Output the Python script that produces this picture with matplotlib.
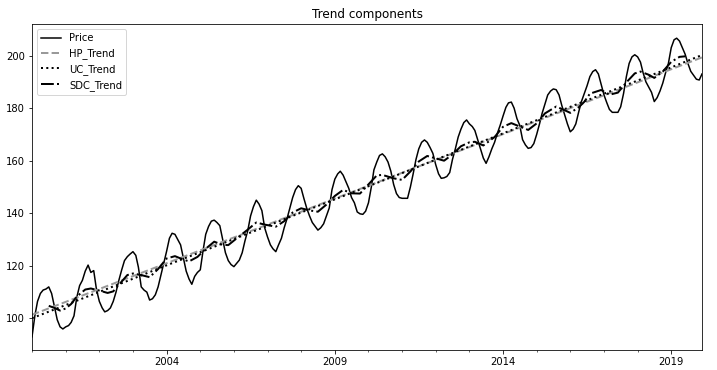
import matplotlib
matplotlib.use("Agg")
import matplotlib.pyplot as plt
import matplotlib.dates as mdates
import pandas as pd

# ---- data ----
start = "2000-01-01"
price = [
    93.0, 101.0, 106.5, 109.5, 110.8, 111.2, 112.0, 109.5, 104.5, 99.5, 96.8, 96.0,
    96.8, 97.3, 98.5, 101.0, 108.0, 112.5, 114.5, 118.0, 120.3, 117.5, 118.2, 111.0,
    106.5, 104.0, 102.5, 103.0, 104.0, 106.5, 110.0, 114.5, 118.5, 122.0, 123.5, 124.5,
    125.4, 124.0, 119.5, 112.0, 110.8, 110.0, 107.0, 107.5, 109.0, 112.0, 116.5, 121.0,
    125.5, 130.5, 132.4, 132.0, 130.0, 128.0, 123.0, 118.0, 115.0, 113.0, 116.0, 117.5,
    118.5, 126.0, 132.0, 135.0, 137.0, 137.4, 136.5, 135.3, 130.0, 125.0, 122.0, 120.5,
    119.7, 121.0, 122.2, 125.0, 129.5, 133.5, 139.0, 142.5, 145.0, 143.5, 141.0, 134.5,
    131.0, 128.0, 126.5, 125.4, 128.0, 130.5, 134.5, 138.0, 142.0, 146.0, 149.0, 150.5,
    149.5, 145.5, 142.0, 139.0, 136.5, 135.0, 133.6, 134.5, 136.0, 139.0, 142.0, 149.0,
    153.0, 155.0, 156.0, 154.5, 152.0, 149.5, 146.0, 144.0, 140.5, 139.8, 139.6, 140.8,
    144.0, 150.0, 156.5, 159.5, 162.0, 162.6, 161.5, 159.5, 156.0, 151.0, 147.5, 146.0,
    145.7, 145.7, 145.7, 150.0, 155.0, 160.5, 164.5, 167.0, 167.9, 167.0, 165.0, 162.8,
    158.5, 155.0, 153.3, 153.5, 154.0, 155.5, 160.5, 164.5, 169.0, 172.0, 174.5, 175.5,
    174.0, 173.0, 171.5, 168.0, 164.5, 161.0, 159.0, 161.5, 164.5, 167.0, 170.5, 173.5,
    177.0, 180.3, 182.0, 182.3, 180.0, 176.0, 173.5, 168.0, 166.0, 164.7, 165.0, 166.5,
    170.0, 174.0, 178.0, 181.5, 185.0, 186.5, 187.3, 187.0, 185.0, 181.0, 177.5, 174.0,
    171.0, 172.0, 174.0, 178.5, 182.5, 185.5, 188.5, 192.0, 193.9, 194.6, 193.0, 189.0,
    185.0, 182.0, 179.5, 178.4, 178.4, 178.4, 180.5, 185.5, 192.0, 197.0, 199.5, 200.3,
    199.5, 197.5, 193.5, 190.0, 188.0, 186.0, 182.5, 184.0, 186.5, 189.5, 193.5, 197.0,
    203.0, 206.0, 206.6, 205.5, 203.0, 200.5, 197.0, 194.0, 192.5, 191.0, 190.7, 193.0,
]

trend_dates = [f"{y}-01-01" for y in range(2000, 2020)] + ["2019-12-01"]
hp_trend = [101.4, 106.3, 111.2, 116.1, 121.0, 125.9, 130.8, 135.7, 140.6, 145.6,
            150.5, 155.4, 160.3, 165.2, 170.1, 175.1, 180.0, 184.9, 189.8, 194.8, 199.3]
uc_trend = [100.1, 105.1, 110.1, 115.1, 120.2, 125.2, 130.2, 135.2, 140.3, 145.3,
            150.3, 155.3, 160.4, 165.4, 170.4, 175.4, 180.5, 185.5, 190.5, 195.5, 200.2]

sdc_month = [6, 8, 10, 12, 14, 16, 19, 21, 24, 27, 29, 31, 34, 36, 39, 42, 45, 48, 51, 54,
             56, 59, 62, 65, 68, 70, 73, 77, 80, 83, 87, 90, 93, 96, 99, 102, 105, 108, 111,
             114, 117, 120, 123, 125, 129, 132, 135, 138, 141, 144, 147, 150, 153, 156, 158,
             161, 165, 168, 171, 174, 177, 180, 183, 187, 190, 192, 195, 197, 199, 203, 206,
             209, 212, 215, 217, 220, 222, 225, 228, 231, 233]
sdc_trend = [104.8, 104.0, 103.0, 103.8, 105.5, 108.3, 111.0, 111.4, 110.6, 109.7, 110.3,
             112.8, 116.5, 117.1, 116.5, 115.7, 118.8, 122.8, 123.7, 122.4, 121.7, 123.4,
             126.5, 129.2, 128.0, 127.9, 130.5, 133.8, 136.5, 135.7, 134.9, 137.0, 140.3,
             141.9, 141.1, 140.6, 143.3, 146.6, 148.9, 147.6, 147.5, 151.0, 154.4, 154.6,
             153.3, 152.7, 155.9, 159.7, 161.8, 160.9, 160.0, 162.4, 165.5, 167.0, 167.2,
             165.8, 169.0, 172.9, 174.3, 173.0, 171.7, 174.2, 178.0, 180.6, 179.2, 178.2,
             180.3, 182.4, 185.5, 186.9, 185.1, 185.9, 189.8, 193.2, 193.9, 192.7, 191.5,
             193.9, 197.6, 199.5, 199.7]

major_years = [2004, 2009, 2014, 2019]

# ---- figure ----
W, H, DPI = 717, 370, 72
fig = plt.figure(figsize=(W / DPI, H / DPI), dpi=DPI)
ax = fig.add_axes([32 / W, 20 / H, (702 - 32) / W, (350 - 24) / H])

dates = pd.date_range(start, periods=len(price), freq="MS")
tdates = pd.to_datetime(trend_dates)
sdates = pd.DatetimeIndex([pd.Timestamp(start) + pd.DateOffset(months=m) for m in sdc_month])

ax.plot(dates, price, color="black", lw=1.5, label="Price")
ax.plot(tdates, hp_trend, color="#999999", lw=2.0, ls="--", label="HP_Trend")
ax.plot(tdates, uc_trend, color="black", lw=2.0, ls=":", label="UC_Trend")
ax.plot(sdates, sdc_trend, color="black", lw=2.0, ls="-.", label="SDC_Trend")

ax.set_xlim(dates[0], dates[-1])
ax.set_ylim(88, 212)
ax.set_yticks([100, 120, 140, 160, 180, 200])

ax.set_xticks([pd.Timestamp(f"{y}-01-01") for y in major_years])
ax.set_xticklabels([str(y) for y in major_years])
ax.xaxis.set_minor_locator(mdates.YearLocator(1))
ax.tick_params(axis="both", labelsize=10)

ax.set_title("Trend components", fontsize=12)
ax.legend(loc="upper left", fontsize=10, handlelength=2.0)

fig.savefig("out.png", dpi=DPI)
